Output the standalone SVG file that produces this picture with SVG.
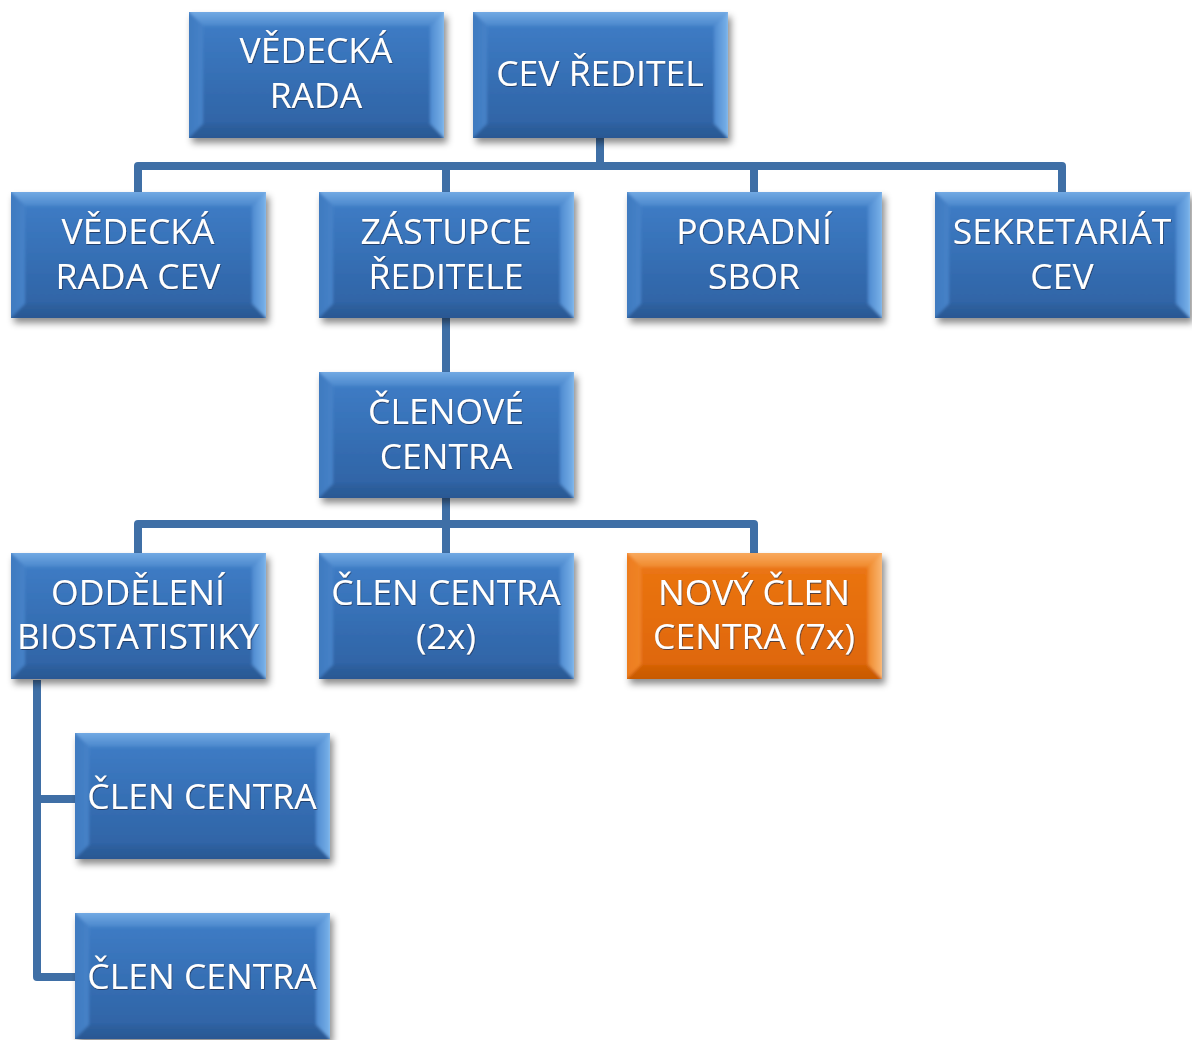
<svg xmlns="http://www.w3.org/2000/svg" width="1192" height="1040" viewBox="0 0 1192 1040">
  <defs>
    <style>
      .lbl { font-family: "Open Sans", "Liberation Sans", sans-serif; font-size: 35.5px; fill: #ffffff; text-anchor: middle; filter: url(#txtShadow); }
      .wire { fill: none; stroke: #3f6fa6; stroke-width: 8; stroke-linejoin: round; }
    </style>
    <filter id="boxShadow" x="-10%" y="-10%" width="125%" height="130%">
      <feDropShadow dx="3" dy="5" stdDeviation="3.5" flood-color="#000000" flood-opacity="0.45"/>
    </filter>
    <filter id="soften" x="0" y="0" width="100%" height="100%">
      <feGaussianBlur stdDeviation="1.6"/>
    </filter>
    <filter id="txtShadow" x="-5%" y="-20%" width="110%" height="140%">
      <feDropShadow dx="0.6" dy="0.8" stdDeviation="0.6" flood-color="#1a2f50" flood-opacity="0.9"/>
    </filter>
    <clipPath id="boxClip">
      <rect width="255" height="126"/>
    </clipPath>

    <!-- blue bevelled box -->
    <linearGradient id="bFace" x1="0" y1="0" x2="0" y2="1">
      <stop offset="0" stop-color="#3d7bc4"/>
      <stop offset="1" stop-color="#2f64a6"/>
    </linearGradient>
    <linearGradient id="bTop" x1="0" y1="0" x2="0" y2="1">
      <stop offset="0" stop-color="#7db3ea"/>
      <stop offset="1" stop-color="#4a87cc"/>
    </linearGradient>
    <linearGradient id="bRight" x1="0" y1="0" x2="1" y2="0">
      <stop offset="0" stop-color="#4d8ad0"/>
      <stop offset="0.75" stop-color="#78b0e8"/>
      <stop offset="1" stop-color="#c8e4fb"/>
    </linearGradient>
    <linearGradient id="bLeft" x1="0" y1="0" x2="1" y2="0">
      <stop offset="0" stop-color="#3d78bd"/>
      <stop offset="1" stop-color="#4682c8"/>
    </linearGradient>
    <linearGradient id="bBottom" x1="0" y1="0" x2="0" y2="1">
      <stop offset="0" stop-color="#2e609f"/>
      <stop offset="1" stop-color="#27558f"/>
    </linearGradient>

    <!-- orange bevelled box -->
    <linearGradient id="oFace" x1="0" y1="0" x2="0" y2="1">
      <stop offset="0" stop-color="#ea7412"/>
      <stop offset="1" stop-color="#df6708"/>
    </linearGradient>
    <linearGradient id="oTop" x1="0" y1="0" x2="0" y2="1">
      <stop offset="0" stop-color="#fbb26c"/>
      <stop offset="1" stop-color="#f08a2c"/>
    </linearGradient>
    <linearGradient id="oRight" x1="0" y1="0" x2="1" y2="0">
      <stop offset="0" stop-color="#f08a2c"/>
      <stop offset="0.75" stop-color="#f9b46e"/>
      <stop offset="1" stop-color="#fde2c4"/>
    </linearGradient>
    <linearGradient id="oLeft" x1="0" y1="0" x2="1" y2="0">
      <stop offset="0" stop-color="#eb7a1c"/>
      <stop offset="1" stop-color="#f08426"/>
    </linearGradient>
    <linearGradient id="oBottom" x1="0" y1="0" x2="0" y2="1">
      <stop offset="0" stop-color="#d46006"/>
      <stop offset="1" stop-color="#c45804"/>
    </linearGradient>

    <symbol id="boxBlue" width="255" height="126" viewBox="0 0 255 126" overflow="visible">
      <g filter="url(#boxShadow)">
        <rect width="255" height="126" fill="url(#bFace)"/>
      </g>
      <g clip-path="url(#boxClip)">
        <g filter="url(#soften)">
          <polygon points="-4,-4 259,-4 241,14 14,14" fill="url(#bTop)"/>
          <polygon points="-4,-4 14,14 14,112 -4,130" fill="url(#bLeft)"/>
          <polygon points="259,-4 259,130 241,112 241,14" fill="url(#bRight)"/>
          <polygon points="-4,130 14,112 241,112 259,130" fill="url(#bBottom)"/>
          <rect x="14" y="14" width="227" height="98" fill="url(#bFace)"/>
        </g>
      </g>
    </symbol>

    <symbol id="boxOrange" width="255" height="126" viewBox="0 0 255 126" overflow="visible">
      <g filter="url(#boxShadow)">
        <rect width="255" height="126" fill="url(#oFace)"/>
      </g>
      <g clip-path="url(#boxClip)">
        <g filter="url(#soften)">
          <polygon points="-4,-4 259,-4 241,14 14,14" fill="url(#oTop)"/>
          <polygon points="-4,-4 14,14 14,112 -4,130" fill="url(#oLeft)"/>
          <polygon points="259,-4 259,130 241,112 241,14" fill="url(#oRight)"/>
          <polygon points="-4,130 14,112 241,112 259,130" fill="url(#oBottom)"/>
          <rect x="14" y="14" width="227" height="98" fill="url(#oFace)"/>
        </g>
      </g>
    </symbol>
  </defs>

  <rect width="1192" height="1040" fill="#ffffff"/>

  <!-- connectors -->
  <g id="connectors">
    <path class="wire" d="M600,137 V166 M138,192 V166 H1062 V192 M446,166 V192 M754,166 V192"/>
    <path class="wire" d="M446,318 V372"/>
    <path class="wire" d="M446,498 V524 M138,553 V524 H754 V553 M446,524 V553"/>
    <path class="wire" d="M37,680 V977 H75 M37,799 H75"/>
  </g>

  <g id="node-vedecka-rada">
    <use href="#boxBlue" x="189" y="12"/>
    <text class="lbl" x="316" y="63">VĚDECKÁ</text>
    <text class="lbl" x="316" y="108">RADA</text>
  </g>
  <g id="node-cev-reditel">
    <use href="#boxBlue" x="473" y="12"/>
    <text class="lbl" x="600" y="86">CEV ŘEDITEL</text>
  </g>

  <g id="node-vedecka-rada-cev">
    <use href="#boxBlue" x="11" y="192"/>
    <text class="lbl" x="138" y="244">VĚDECKÁ</text>
    <text class="lbl" x="138" y="289">RADA CEV</text>
  </g>
  <g id="node-zastupce">
    <use href="#boxBlue" x="319" y="192"/>
    <text class="lbl" x="446" y="244">ZÁSTUPCE</text>
    <text class="lbl" x="446" y="289">ŘEDITELE</text>
  </g>
  <g id="node-poradni-sbor">
    <use href="#boxBlue" x="627" y="192"/>
    <text class="lbl" x="754" y="244">PORADNÍ</text>
    <text class="lbl" x="754" y="289">SBOR</text>
  </g>
  <g id="node-sekretariat">
    <use href="#boxBlue" x="935" y="192"/>
    <text class="lbl" x="1062" y="244">SEKRETARIÁT</text>
    <text class="lbl" x="1062" y="289">CEV</text>
  </g>

  <g id="node-clenove-centra">
    <use href="#boxBlue" x="319" y="372"/>
    <text class="lbl" x="446" y="424">ČLENOVÉ</text>
    <text class="lbl" x="446" y="469">CENTRA</text>
  </g>

  <g id="node-oddeleni-biostatistiky">
    <use href="#boxBlue" x="11" y="553"/>
    <text class="lbl" x="138" y="605">ODDĚLENÍ</text>
    <text class="lbl" x="138" y="649">BIOSTATISTIKY</text>
  </g>
  <g id="node-clen-centra-2x">
    <use href="#boxBlue" x="319" y="553"/>
    <text class="lbl" x="446" y="605">ČLEN CENTRA</text>
    <text class="lbl" x="446" y="649">(2x)</text>
  </g>
  <g id="node-novy-clen-centra">
    <use href="#boxOrange" x="627" y="553"/>
    <text class="lbl" x="754" y="605">NOVÝ ČLEN</text>
    <text class="lbl" x="754" y="649">CENTRA (7x)</text>
  </g>

  <g id="node-clen-centra-a">
    <use href="#boxBlue" x="75" y="733"/>
    <text class="lbl" x="202" y="809">ČLEN CENTRA</text>
  </g>
  <g id="node-clen-centra-b">
    <use href="#boxBlue" x="75" y="913"/>
    <text class="lbl" x="202" y="989">ČLEN CENTRA</text>
  </g>
</svg>
